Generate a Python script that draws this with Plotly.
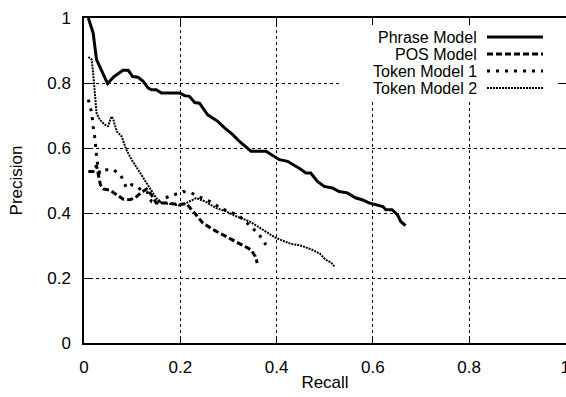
import plotly.graph_objects as go

series_names = ["Phrase Model", "POS Model", "Token Model 1", "Token Model 2"]

phrase_recall = [0.009, 0.019, 0.026, 0.049, 0.061, 0.081, 0.092, 0.101, 0.112, 0.123, 0.133, 0.140,
                 0.150, 0.161, 0.199, 0.209, 0.219, 0.230, 0.240, 0.257, 0.278, 0.292, 0.309, 0.323,
                 0.347, 0.378, 0.406, 0.423, 0.447, 0.461, 0.471, 0.485, 0.499, 0.516, 0.530, 0.547,
                 0.565, 0.578, 0.592, 0.606, 0.621, 0.627, 0.640, 0.651, 0.658, 0.668]
phrase_precision = [1.000, 0.954, 0.872, 0.798, 0.818, 0.839, 0.839, 0.820, 0.818, 0.805, 0.785, 0.779,
                    0.779, 0.769, 0.769, 0.761, 0.759, 0.740, 0.738, 0.702, 0.682, 0.662, 0.641, 0.620,
                    0.590, 0.590, 0.564, 0.559, 0.538, 0.523, 0.523, 0.497, 0.482, 0.477, 0.466, 0.462,
                    0.446, 0.441, 0.431, 0.426, 0.420, 0.410, 0.410, 0.395, 0.374, 0.361]

pos_recall = [0.009, 0.019, 0.026, 0.030, 0.034, 0.040, 0.054, 0.068, 0.081, 0.095, 0.106, 0.119,
              0.130, 0.140, 0.150, 0.171, 0.199, 0.213, 0.226, 0.247, 0.268, 0.288, 0.309, 0.330,
              0.347, 0.356, 0.360]
pos_precision = [0.528, 0.528, 0.546, 0.518, 0.487, 0.474, 0.470, 0.456, 0.443, 0.441, 0.446, 0.463,
                 0.474, 0.456, 0.431, 0.431, 0.426, 0.429, 0.405, 0.369, 0.349, 0.333, 0.318, 0.302,
                 0.287, 0.266, 0.246]

tok1_recall = [0.009, 0.016, 0.019, 0.023, 0.026, 0.030, 0.033, 0.043, 0.061, 0.075, 0.081, 0.088,
               0.099, 0.109, 0.123, 0.133, 0.140, 0.150, 0.168, 0.185, 0.206, 0.223, 0.237, 0.261,
               0.288, 0.302, 0.323, 0.350, 0.364, 0.378]
tok1_precision = [0.749, 0.708, 0.667, 0.626, 0.574, 0.533, 0.523, 0.533, 0.533, 0.518, 0.503, 0.477,
                  0.487, 0.482, 0.466, 0.462, 0.436, 0.431, 0.446, 0.456, 0.466, 0.462, 0.451, 0.436,
                  0.412, 0.405, 0.390, 0.354, 0.333, 0.302]

tok2_recall = [0.009, 0.016, 0.019, 0.023, 0.026, 0.033, 0.043, 0.050, 0.057, 0.061, 0.068, 0.078,
               0.088, 0.099, 0.112, 0.130, 0.140, 0.150, 0.161, 0.175, 0.188, 0.199, 0.213, 0.233,
               0.251, 0.275, 0.295, 0.316, 0.344, 0.370, 0.399, 0.430, 0.450, 0.474, 0.490, 0.502,
               0.513, 0.520]
tok2_precision = [0.880, 0.872, 0.831, 0.759, 0.708, 0.687, 0.672, 0.667, 0.697, 0.687, 0.651, 0.636,
                  0.595, 0.564, 0.533, 0.492, 0.466, 0.446, 0.431, 0.429, 0.426, 0.423, 0.431, 0.446,
                  0.436, 0.415, 0.405, 0.390, 0.374, 0.350, 0.323, 0.305, 0.300, 0.287, 0.275, 0.256,
                  0.248, 0.236]

tick_vals = [0, 0.2, 0.4, 0.6, 0.8, 1]
tick_text = ["0", "0.2", "0.4", "0.6", "0.8", "1"]

xs = [phrase_recall, pos_recall, tok1_recall, tok2_recall]
ys = [phrase_precision, pos_precision, tok1_precision, tok2_precision]
styles = [
    dict(width=3, dash="solid"),
    dict(width=3, dash="6px,3px"),
    dict(width=3, dash="3px,6px"),
    dict(width=2, dash="2px,1px"),
]

FONT = "Liberation Sans, Arial, sans-serif"
fig = go.Figure()
for name, x, y, st in zip(series_names, xs, ys, styles):
    fig.add_trace(go.Scatter(x=x, y=y, mode="lines", name=name, showlegend=False,
                             line=dict(color="black", width=st["width"], dash=st["dash"])))

W, H = 566, 397
ml, mr, mt, mb = 84, 0, 18, 54
pw = W - ml - mr
ph = H - mt - mb

def px_x(p):
    return (p - ml) / pw

def px_y(p):
    return (H - mb - p) / ph

# opaque legend background (hides grid lines behind the key)
fig.add_shape(type="rect", xref="paper", yref="paper", layer="above",
              x0=px_x(340), x1=px_x(558), y0=px_y(101), y1=px_y(25),
              fillcolor="white", line=dict(width=0))

# custom legend: text right-aligned, line sample on the right
legend_py = [37, 54, 71, 88]
text_right_px = 478
line_px = (487, 543)
for name, st, py in zip(series_names, styles, legend_py):
    yp = px_y(py)
    fig.add_annotation(x=px_x(text_right_px), y=yp, xref="paper", yref="paper",
                       text=name, showarrow=False, xanchor="right", yanchor="middle",
                       height=16, borderpad=0,
                       font=dict(family=FONT, size=16, color="black"))
    fig.add_shape(type="line", xref="paper", yref="paper", layer="above",
                  x0=px_x(line_px[0]), x1=px_x(line_px[1]), y0=yp, y1=yp,
                  line=dict(color="black", width=st["width"], dash=st["dash"]))

axis_common = dict(
    tickvals=tick_vals, ticktext=tick_text, ticks="inside", ticklen=6, tickwidth=1,
    tickcolor="black", showline=True, linecolor="black", linewidth=1.5, mirror="ticks",
    showgrid=True, gridcolor="black", gridwidth=1, griddash="dot", zeroline=False,
    automargin=False, tickfont=dict(family=FONT, size=17, color="black"),
    ticklabelstandoff=8, ticklabeloverflow="allow",
)
fig.update_layout(
    width=W, height=H, template="none",
    margin=dict(l=ml, r=mr, t=mt, b=mb, pad=0),
    paper_bgcolor="white", plot_bgcolor="white",
    font=dict(family=FONT, size=17, color="black"),
    xaxis=dict(range=[0, 1.0014], title=dict(text="Recall", standoff=0,
               font=dict(family=FONT, size=17)), **axis_common),
    yaxis=dict(range=[0, 1], title=dict(text="Precision", standoff=20,
               font=dict(family=FONT, size=17)), **axis_common),
)
fig.write_html("out.html")
